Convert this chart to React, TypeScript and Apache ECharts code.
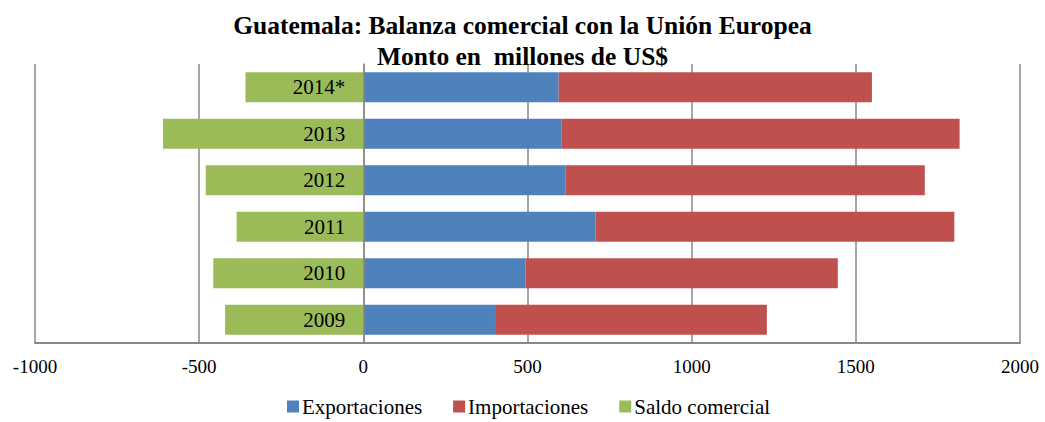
import React, { useEffect, useRef } from "react";
import * as echarts from "echarts";

const categories = ["2009", "2010", "2011", "2012", "2013", "2014*"];
const exportaciones = [404, 494, 707, 615, 603, 595];
const importaciones = [825, 951, 1093, 1095, 1213, 954];
const saldo = [-421, -457, -386, -480, -610, -359];

const FONT = "Liberation Serif";

export default function App() {
  const ref = useRef<HTMLDivElement>(null);
  useEffect(() => {
    if (!ref.current) return;
    const chart = echarts.init(ref.current, null, { renderer: "svg" });
    chart.setOption({
      animation: false,
      textStyle: { fontFamily: FONT },
      title: {
        text: "Guatemala: Balanza comercial con la Unión Europea\nMonto en  millones de US$",
        left: "center",
        top: 5,
        textStyle: { fontFamily: FONT, fontSize: 25.5, fontWeight: "bold", color: "#000", lineHeight: 31 },
      },
      legend: {
        bottom: 0,
        left: 282,
        itemWidth: 12,
        itemHeight: 12,
        itemGap: 31,
        icon: "rect",
        textStyle: { fontFamily: FONT, fontSize: 21, color: "#000", padding: [0, 0, 0, -2] },
        data: ["Exportaciones", "Importaciones", "Saldo comercial"],
      },
      grid: { left: 35, right: 25, top: 64, bottom: 79, containLabel: false, outerBoundsMode: "none" },
      xAxis: {
        type: "value",
        min: -1000,
        max: 2000,
        interval: 500,
        axisLine: { show: true, onZero: false, lineStyle: { color: "#888", width: 2 } },
        axisTick: { show: false },
        axisLabel: {
          fontFamily: FONT,
          fontSize: 19,
          color: "#000",
          margin: 14,
          formatter: (v: number) => String(v),
        },
        splitLine: { show: true, lineStyle: { color: "#888", width: 1.5 } },
      },
      yAxis: {
        type: "category",
        data: categories,
        axisLine: { show: true, onZero: true, lineStyle: { color: "#888", width: 1.5 } },
        axisTick: { show: false },
        axisLabel: { show: false },
        z: 10,
      },
      series: [
        {
          name: "Exportaciones",
          type: "bar",
          stack: "total",
          data: exportaciones,
          barCategoryGap: "35%",
          itemStyle: { color: "#4F81BD" },
        },
        {
          name: "Importaciones",
          type: "bar",
          stack: "total",
          data: importaciones,
          itemStyle: { color: "#C0504D" },
        },
        {
          name: "Saldo comercial",
          type: "bar",
          stack: "total",
          data: saldo,
          itemStyle: { color: "#9BBB59" },
          label: {
            show: true,
            position: "insideRight",
            distance: 18,
            formatter: "{b}",
            fontFamily: FONT,
            fontSize: 21,
            color: "#000",
          },
        },
      ],
    });
    return () => chart.dispose();
  }, []);
  return <div ref={ref} style={{ width: 1045, height: 422, position: "absolute", left: 0, top: 0 }} />;
}
